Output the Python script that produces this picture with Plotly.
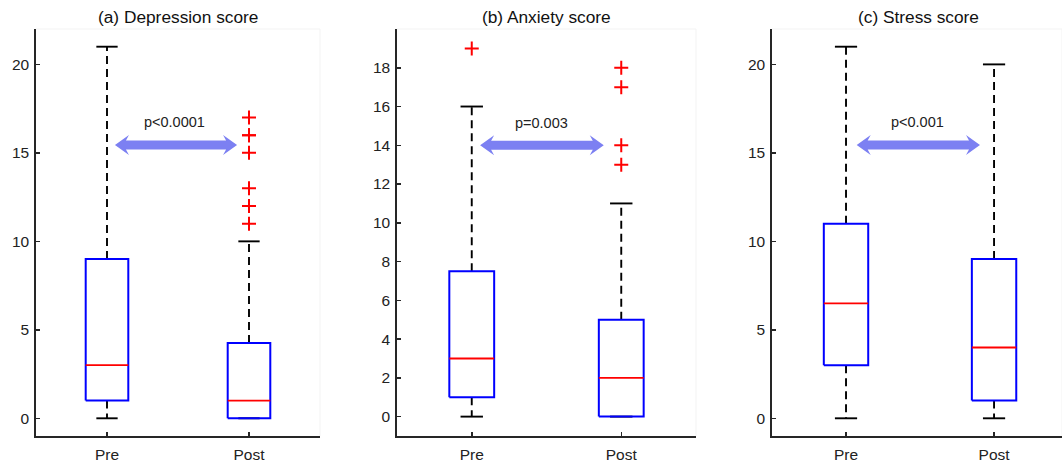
import plotly.graph_objects as go

W, H = 1062, 462

titles = ["(a) Depression score", "(b) Anxiety score", "(c) Stress score"]
groups = ["Pre", "Post"]
positions = [1, 2]

# Box statistics per panel: values for [Pre, Post]
dep_lower = [0, 0]
dep_q1 = [1, 0]
dep_median = [3, 1]
dep_q3 = [9, 4.25]
dep_upper = [21, 10]
dep_outliers = [[], [11, 12, 13, 15, 16, 16, 17]]

anx_lower = [0, 0]
anx_q1 = [1, 0]
anx_median = [3, 2]
anx_q3 = [7.5, 5]
anx_upper = [16, 11]
anx_outliers = [[19], [13, 14, 17, 18]]

str_lower = [0, 0]
str_q1 = [3, 1]
str_median = [6.5, 4]
str_q3 = [11, 9]
str_upper = [21, 20]
str_outliers = [[], []]

p_labels = ["p<0.0001", "p=0.003", "p<0.001"]
arrow_y = [15.45, 14.0, 15.45]
arrow_x0 = [1.056, 1.056, 1.072]
arrow_x1 = [1.916, 1.883, 1.905]
label_x = [1.478, 1.465, 1.482]
label_y = [16.75, 15.15, 16.75]

y_ranges = [[-1, 22], [-1, 20], [-1, 22]]
y_tickvals = [[0, 5, 10, 15, 20], [0, 2, 4, 6, 8, 10, 12, 14, 16, 18], [0, 5, 10, 15, 20]]
x_ranges = [[0.5, 2.5], [0.5, 2.5], [0.5, 2.459]]

# layout geometry (pixels)
x_dom_px = [(36, 320), (397, 696), (772, 1062)]
y_dom_px = (29, 436)  # top, bottom
title_x_px = [178, 546, 918]

panels = [
    (dep_lower, dep_q1, dep_median, dep_q3, dep_upper, dep_outliers),
    (anx_lower, anx_q1, anx_median, anx_q3, anx_upper, anx_outliers),
    (str_lower, str_q1, str_median, str_q3, str_upper, str_outliers),
]

BOX_HALF = 0.15
CAP_HALF = 0.075
BLUE = "#0000ff"
RED = "#ff0000"
ARROW = "#7c80f2"
AXC = "#262626"
FONT = "Liberation Sans, Arial, sans-serif"

fig = go.Figure()
shapes = []
annotations = []

for i, (lo, q1, med, q3, up, outs) in enumerate(panels):
    xa = "x" if i == 0 else f"x{i+1}"
    ya = "y" if i == 0 else f"y{i+1}"
    wx, wy, cx, cy, bx, by, mx, my, ox, oy = [], [], [], [], [], [], [], [], [], []
    for j, p in enumerate(positions):
        wx += [p, p, None, p, p, None]
        wy += [q3[j], up[j], None, q1[j], lo[j], None]
        cx += [p - CAP_HALF, p + CAP_HALF, None, p - CAP_HALF, p + CAP_HALF, None]
        cy += [up[j], up[j], None, lo[j], lo[j], None]
        bx += [p - BOX_HALF, p + BOX_HALF, p + BOX_HALF, p - BOX_HALF, p - BOX_HALF, None]
        by += [q1[j], q1[j], q3[j], q3[j], q1[j], None]
        mx += [p - BOX_HALF, p + BOX_HALF, None]
        my += [med[j], med[j], None]
        ox += [p] * len(outs[j])
        oy += list(outs[j])
    fig.add_trace(go.Scatter(x=wx, y=wy, mode="lines", xaxis=xa, yaxis=ya,
                             line=dict(color="black", width=1.9, dash="8px,5px"),
                             hoverinfo="skip", showlegend=False))
    fig.add_trace(go.Scatter(x=cx, y=cy, mode="lines", xaxis=xa, yaxis=ya,
                             line=dict(color="black", width=1.9),
                             hoverinfo="skip", showlegend=False))
    fig.add_trace(go.Scatter(x=bx, y=by, mode="lines", xaxis=xa, yaxis=ya,
                             line=dict(color=BLUE, width=2),
                             hoverinfo="skip", showlegend=False))
    fig.add_trace(go.Scatter(x=mx, y=my, mode="lines", xaxis=xa, yaxis=ya,
                             line=dict(color=RED, width=1.8),
                             hoverinfo="skip", showlegend=False))
    if ox:
        fig.add_trace(go.Scatter(x=ox, y=oy, mode="markers", xaxis=xa, yaxis=ya,
                                 marker=dict(symbol="cross-thin", size=10,
                                             line=dict(color=RED, width=2)),
                                 hoverinfo="skip", showlegend=False))

    # axis definitions
    d0, d1 = x_dom_px[i]
    xdom = [d0 / W, d1 / W]
    ydom = [(H - y_dom_px[1]) / H, (H - y_dom_px[0]) / H]
    xax = dict(domain=xdom, range=x_ranges[i], tickvals=positions, ticktext=groups,
               showline=True, linecolor=AXC, linewidth=1.7, ticks="inside",
               ticklen=4, tickwidth=1.5, tickcolor=AXC, showgrid=False,
               zeroline=False, anchor=ya, ticklabelstandoff=4, automargin=False,
               fixedrange=True,
               tickfont=dict(family=FONT, size=15.5, color="#222222"))
    yax = dict(domain=ydom, range=y_ranges[i], tickvals=y_tickvals[i],
               showline=True, linecolor=AXC, linewidth=1.7, ticks="inside",
               ticklen=4, tickwidth=1.5, tickcolor=AXC, showgrid=False,
               zeroline=False, anchor=xa, ticklabelstandoff=2, automargin=False,
               fixedrange=True,
               tickfont=dict(family=FONT, size=15.5, color="#222222"))
    fig.update_layout(**{("xaxis" if i == 0 else f"xaxis{i+1}"): xax,
                         ("yaxis" if i == 0 else f"yaxis{i+1}"): yax})

    # faint top/right frame
    shapes.append(dict(type="path", xref=f"{xa} domain", yref=f"{ya} domain",
                       path="M 0,1 L 1,1 L 1,0", line=dict(color="#f3f3f3", width=1),
                       layer="below"))

    # double-headed arrow, sized in pixels converted to data units
    px_per_x = (d1 - d0) / (x_ranges[i][1] - x_ranges[i][0])
    px_per_y = (y_dom_px[1] - y_dom_px[0]) / (y_ranges[i][1] - y_ranges[i][0])
    hl, sw = 11 / px_per_x, 3 / px_per_x
    st, hh = 4.5 / px_per_y, 10 / px_per_y
    x0, x1, yc = arrow_x0[i], arrow_x1[i], arrow_y[i]
    pts = [
        (x0, yc), (x0 + hl + sw, yc + hh), (x0 + hl, yc + st),
        (x1 - hl, yc + st), (x1 - hl - sw, yc + hh), (x1, yc),
        (x1 - hl - sw, yc - hh), (x1 - hl, yc - st), (x0 + hl, yc - st),
        (x0 + hl + sw, yc - hh),
    ]
    path = "M " + " L ".join(f"{a},{b}" for a, b in pts) + " Z"
    shapes.append(dict(type="path", path=path, xref=xa, yref=ya,
                       fillcolor=ARROW, line=dict(width=0), layer="above"))
    annotations.append(dict(x=label_x[i], y=label_y[i], xref=xa, yref=ya,
                            text=p_labels[i], showarrow=False,
                            xanchor="center", yanchor="middle",
                            font=dict(family=FONT, size=14.5, color="#222222")))
    # panel title
    annotations.append(dict(x=title_x_px[i] / W, y=(H - 17) / H,
                            xref="paper", yref="paper",
                            text=titles[i], showarrow=False,
                            xanchor="center", yanchor="middle",
                            font=dict(family=FONT, size=17.3, color="#111111")))

fig.update_layout(width=W, height=H, autosize=False,
                  margin=dict(l=0, r=0, t=0, b=0, pad=0, autoexpand=False),
                  paper_bgcolor="white", plot_bgcolor="white",
                  shapes=shapes, annotations=annotations, showlegend=False)

fig.write_html("out.html",
               config={"displayModeBar": False, "responsive": False,
                       "staticPlot": True},
               post_script="document.body.style.margin='0px';"
                           "document.body.style.overflow='hidden';")
